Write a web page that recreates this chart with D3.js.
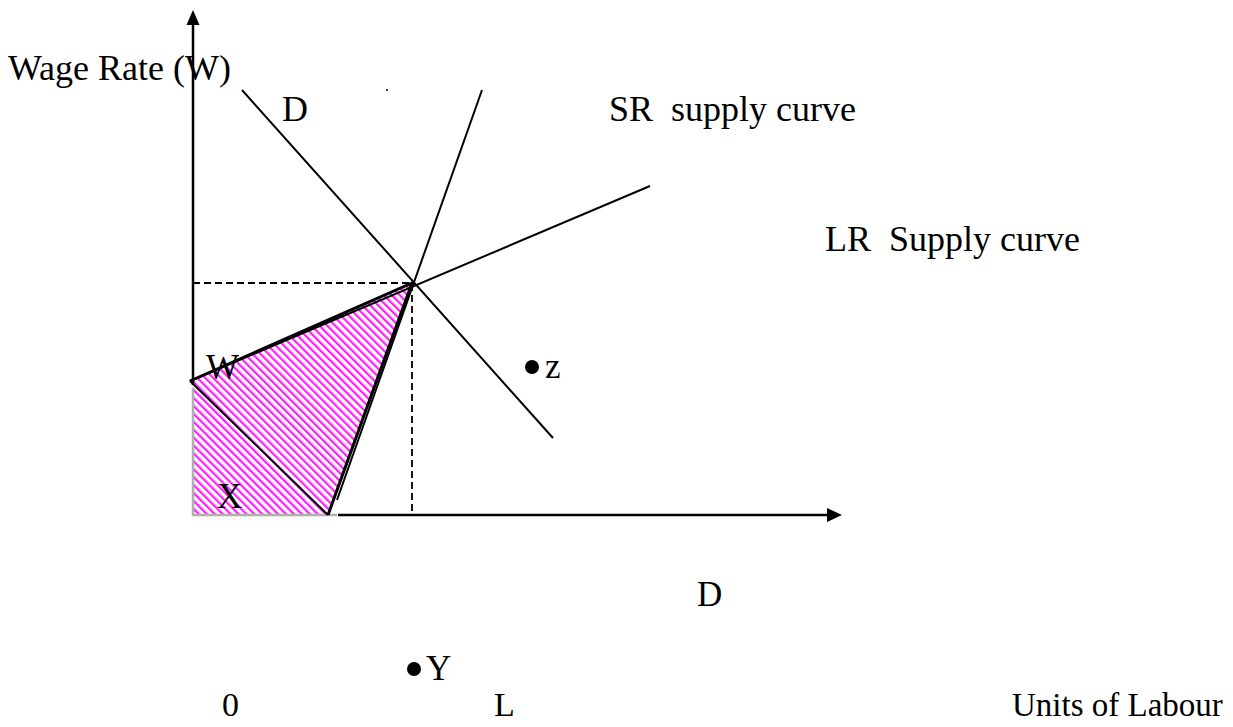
<!DOCTYPE html>
<html>
<head>
<meta charset="utf-8">
<script src="https://cdn.jsdelivr.net/npm/d3@7"></script>
<style>
  body { margin: 0; background: #fff; }
  text { font-family: "Liberation Serif", "Times New Roman", serif; white-space: pre; }
</style>
</head>
<body>
<div id="chart"></div>
<script>
const width = 1233;
const height = 727;

// diagram points, in the diagram's own units (origin = 0 of the axes)
const equilibrium = [219, 232];
const demandLine = [[49, 425], [360, 77]];
const srSupply = [[289, 425], [144, 15]];
const lrSupply = [[-3, 134], [457, 329]];
const shaded = [[-3, 134], [219, 232], [135, 0], [0, 0], [0, 127]];
const innerEdge = [[-3, 134], [135, 0]];
const grayEdge = [[0, 127], [0, 0], [144, 0]];
const pointsZY = [{ name: "z", x: 339, y: 148 }, { name: "Y", x: 221, y: -154 }];
const strayDot = [194, 425];

const svg = d3.select("#chart").append("svg")
    .attr("width", width)
    .attr("height", height);

const x = d3.scaleLinear().domain([0, 649]).range([193, 842]);
const y = d3.scaleLinear().domain([0, 505]).range([515, 10]);

const line = d3.line().x(d => x(d[0])).y(d => y(d[1]));

const defs = svg.append("defs");
const pat = defs.append("pattern")
    .attr("id", "hatch")
    .attr("patternUnits", "userSpaceOnUse")
    .attr("width", 5.6)
    .attr("height", 5.6)
    .attr("patternTransform", "rotate(-45)");
pat.append("rect").attr("width", 5.6).attr("height", 5.6).attr("fill", "#fff");
pat.append("rect").attr("width", 2.3).attr("height", 5.6).attr("fill", "#f2f");

// shaded area
svg.append("path")
    .attr("d", line(shaded) + "Z")
    .attr("fill", "url(#hatch)");

svg.append("path")
    .attr("d", line(grayEdge))
    .attr("fill", "none")
    .attr("stroke", "#b0b0b0")
    .attr("stroke-width", 2.5);

// axes
svg.append("line")
    .attr("x1", x(0)).attr("y1", y(130))
    .attr("x2", x(0)).attr("y2", y(490))
    .attr("stroke", "#000").attr("stroke-width", 2.5);
svg.append("path")
    .attr("d", `M${x(0) - 6.5},${y(490)} L${x(0)},${y(505)} L${x(0) + 6.5},${y(490)} Z`)
    .attr("fill", "#000");

svg.append("line")
    .attr("x1", x(145)).attr("y1", y(0))
    .attr("x2", x(636)).attr("y2", y(0))
    .attr("stroke", "#000").attr("stroke-width", 2.5);
svg.append("path")
    .attr("d", `M${x(634)},${y(0) - 7} L${x(649)},${y(0)} L${x(634)},${y(0) + 7} Z`)
    .attr("fill", "#000");

// dashed guides
svg.append("path")
    .attr("d", line([[0, equilibrium[1]], equilibrium, [equilibrium[0], 0]]))
    .attr("fill", "none")
    .attr("stroke", "#000")
    .attr("stroke-width", 1.8)
    .attr("stroke-dasharray", "7,4");

// curves
[demandLine, srSupply, lrSupply, innerEdge].forEach(seg => {
    svg.append("path")
        .attr("d", line(seg))
        .attr("fill", "none")
        .attr("stroke", "#000")
        .attr("stroke-width", 2);
});

// triangle edges drawn heavier
svg.append("path")
    .attr("d", line([shaded[0], shaded[1], shaded[2]]))
    .attr("fill", "none")
    .attr("stroke", "#000")
    .attr("stroke-width", 3);

svg.append("circle")
    .attr("cx", x(strayDot[0])).attr("cy", y(strayDot[1]))
    .attr("r", 1).attr("fill", "#000");

svg.selectAll(".pt")
    .data(pointsZY)
    .enter().append("circle")
    .attr("cx", d => x(d.x))
    .attr("cy", d => y(d.y))
    .attr("r", 7)
    .attr("fill", "#000");

// labels
const labels = [
    { t: "Wage Rate (W)", x: 8, y: 80, s: 36 },
    { t: "D", x: 282, y: 121, s: 36 },
    { t: "SR  supply curve", x: 609, y: 121, s: 36 },
    { t: "LR  Supply curve", x: 825, y: 251, s: 36 },
    { t: "W", x: 206, y: 379, s: 35 },
    { t: "X", x: 217, y: 508, s: 35 },
    { t: "z", x: 545, y: 378, s: 35 },
    { t: "D", x: 697, y: 606, s: 35 },
    { t: "Y", x: 426, y: 680, s: 35 },
    { t: "0", x: 222, y: 716, s: 34 },
    { t: "L", x: 494, y: 716, s: 34 },
    { t: "Units of Labour", x: 1012, y: 716, s: 33 }
];

svg.selectAll(".lbl")
    .data(labels)
    .enter().append("text")
    .attr("x", d => d.x)
    .attr("y", d => d.y)
    .text(d => d.t)
    .style("font-size", d => d.s + "px")
    .style("fill", "#000");
</script>
</body>
</html>
